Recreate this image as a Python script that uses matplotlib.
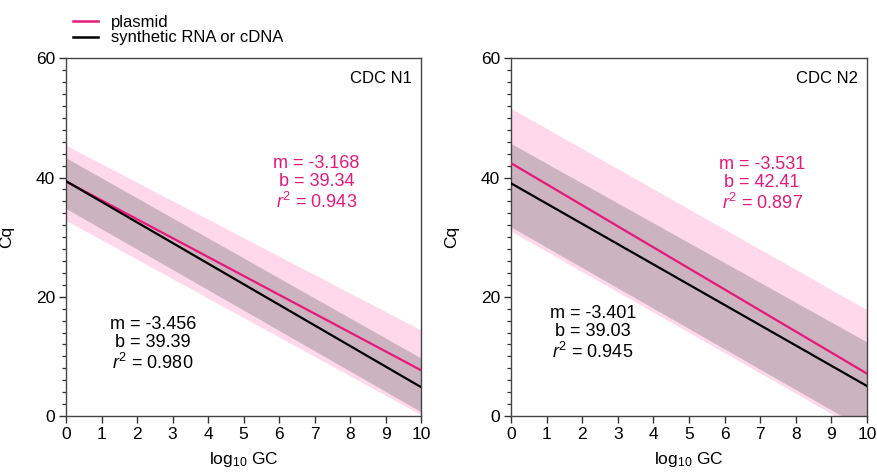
import numpy as np
import matplotlib
matplotlib.use('Agg')
from matplotlib import pyplot as plt
from matplotlib.lines import Line2D

plt.rcParams['font.family'] = ['Liberation Sans', 'DejaVu Sans']
plt.rcParams['mathtext.fontset'] = 'custom'
plt.rcParams['mathtext.rm'] = 'Liberation Sans'
plt.rcParams['mathtext.it'] = 'Liberation Sans:italic'

# Data
assays = ['CDC N1', 'CDC N2']
x_ends = [0, 10]

plasmid_m = [-3.168, -3.531]
plasmid_b = [39.34, 42.41]
plasmid_r2 = [0.943, 0.897]
synth_m = [-3.456, -3.401]
synth_b = [39.39, 39.03]
synth_r2 = [0.980, 0.945]

# band edges at x = 0 and x = 10
plasmid_upper = [[45.4, 14.4], [51.6, 17.8]]
plasmid_lower = [[32.8, 0.2], [31.0, -3.0]]
synth_upper = [[43.3, 9.7], [45.7, 12.4]]
synth_lower = [[34.8, 0.7], [31.7, -2.4]]

# label positions (data coords)
plasmid_txt_xy = [(7.05, 39.0), (7.05, 38.9)]
synth_txt_xy = [(2.45, 12.0), (2.3, 13.9)]

pink = '#e6197b'
pink_band = '#ffd8ec'

fig = plt.figure(figsize=(8.77, 4.72), dpi=100)
axes = [fig.add_axes([0.0753, 0.1186, 0.405, 0.758]),
        fig.add_axes([0.5827, 0.1186, 0.406, 0.758])]

for i, ax in enumerate(axes):
    xs = np.array(x_ends)
    ax.fill_between(xs, plasmid_lower[i], plasmid_upper[i], color=pink_band, lw=0, zorder=1)
    ax.fill_between(xs, synth_lower[i], synth_upper[i], color='#787878', alpha=0.38, lw=0, zorder=2)
    ax.plot(xs, plasmid_b[i] + plasmid_m[i] * xs, color=pink, lw=1.6, zorder=3)
    ax.plot(xs, synth_b[i] + synth_m[i] * xs, color='black', lw=1.6, zorder=4)

    ax.set_xlim(0, 10)
    ax.set_ylim(0, 60)
    ax.set_xticks(range(0, 11))
    ax.set_yticks([0, 20, 40, 60])
    ax.set_yticks(np.arange(0, 61, 2), minor=True)
    ax.tick_params(axis='both', which='major', direction='out', length=5, width=1,
                   labelsize=12.5, color='#333333', pad=3)
    ax.tick_params(axis='y', which='minor', direction='out', length=3, width=0.9, color='#333333')
    for s in ax.spines.values():
        s.set_color('#444444')
        s.set_linewidth(1)

    ax.set_ylabel('Cq', fontsize=12.5)
    ax.yaxis.set_label_coords(-0.146, 0.5)
    ax.set_xlabel('log$_{10}$ GC', fontsize=12.5)
    ax.xaxis.set_label_coords(0.5, -0.095)

    ax.text(0.974, 0.944, assays[i], transform=ax.transAxes, ha='right', va='center',
            fontsize=12)

    px, py = plasmid_txt_xy[i]
    ax.text(px, py, 'm = %.3f\nb = %.2f\n$r^2$ = %.3f' % (plasmid_m[i], plasmid_b[i], plasmid_r2[i]),
            ha='center', va='center', multialignment='center', fontsize=13,
            color=pink, linespacing=1.1, zorder=5)
    sx, sy = synth_txt_xy[i]
    ax.text(sx, sy, 'm = %.3f\nb = %.2f\n$r^2$ = %.3f' % (synth_m[i], synth_b[i], synth_r2[i]),
            ha='center', va='center', multialignment='center', fontsize=13,
            color='black', linespacing=1.1, zorder=5)

handles = [Line2D([], [], color=pink, lw=1.8), Line2D([], [], color='black', lw=1.8)]
fig.legend(handles, ['plasmid', 'synthetic RNA or cDNA'], loc='upper left',
           bbox_to_anchor=(0.083, 0.969), frameon=False, fontsize=12,
           handlelength=1.5, handletextpad=0.8, labelspacing=0.05, borderpad=0,
           borderaxespad=0)

fig.savefig('out.png', dpi=100)
